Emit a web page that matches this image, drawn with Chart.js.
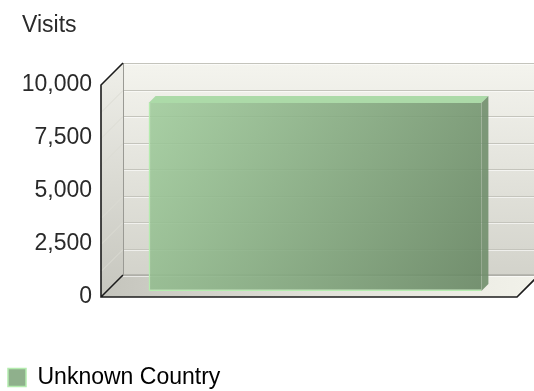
<!DOCTYPE html>
<html>
<head>
<meta charset="utf-8">
<script src="https://cdn.jsdelivr.net/npm/chart.js@4.4.0/dist/chart.umd.min.js"></script>
<style>
html, body { margin: 0; padding: 0; background: #fff; }
</style>
</head>
<body>
<canvas id="visits-chart" width="534" height="391"></canvas>
<script>
var countries = ["Unknown Country"];
var visits = [8870];
var yTicks = [0, 2500, 5000, 7500, 10000];
var gridValues = [0, 1250, 2500, 3750, 5000, 6250, 7500, 8750, 10000];

var FONT = "'Liberation Sans', Arial, sans-serif";
var TEXT = "#2a2a2a";
var DEPTH = 22;       // box depth, px
var BAR_OFFSET = 6;   // bar front face sits this far into the box
var BAR_DEPTH = 7;

function poly(ctx, pts) {
    ctx.beginPath();
    ctx.moveTo(pts[0][0], pts[0][1]);
    for (var i = 1; i < pts.length; i++)
        ctx.lineTo(pts[i][0], pts[i][1]);
    ctx.closePath();
}

var box3d = {
    id: "box3d",
    afterLayout: function(chart) {
        // legend sits a little lower and further in than the default layout
        chart.legend.top += 8;
        chart.legend.bottom += 8;
        chart.legend.left += 6;
    },
    beforeDraw: function(chart) {
        var ctx = chart.ctx;
        var a = chart.chartArea;
        var y = chart.scales.y;
        var L = a.left, R = a.right, T = a.top, B = a.bottom, D = DEPTH;

        ctx.save();
        // back wall
        var g = ctx.createLinearGradient(0, T - D, 0, B - D);
        g.addColorStop(0, "#f4f4ee");
        g.addColorStop(1, "#d3d3cb");
        ctx.fillStyle = g;
        ctx.fillRect(L + D, T - D, R - L, B - T);

        // left wall
        g = ctx.createLinearGradient(0, T - D, 0, B);
        g.addColorStop(0, "#efefe9");
        g.addColorStop(1, "#c6c6be");
        ctx.fillStyle = g;
        poly(ctx, [[L, T], [L + D, T - D], [L + D, B - D], [L, B]]);
        ctx.fill();

        // floor
        g = ctx.createLinearGradient(L, 0, R + D, 0);
        g.addColorStop(0, "#c4c4bc");
        g.addColorStop(0.5, "#e2e2da");
        g.addColorStop(1, "#f2f2ea");
        ctx.fillStyle = g;
        poly(ctx, [[L, B], [R, B], [R + D, B - D], [L + D, B - D]]);
        ctx.fill();

        // grid lines on back and left walls
        ctx.lineWidth = 1;
        gridValues.forEach(function(v) {
            var py = Math.round(y.getPixelForValue(v)) + 0.5;
            ctx.strokeStyle = "#c4c4bc";
            ctx.beginPath();
            ctx.moveTo(L + D, py - D);
            ctx.lineTo(R + D, py - D);
            ctx.stroke();
            ctx.strokeStyle = "rgba(255,255,255,0.6)";
            ctx.beginPath();
            ctx.moveTo(L + D, py - D + 1);
            ctx.lineTo(R + D, py - D + 1);
            ctx.stroke();
            ctx.strokeStyle = "#dcdcd4";
            ctx.beginPath();
            ctx.moveTo(L, py);
            ctx.lineTo(L + D, py - D);
            ctx.stroke();
        });

        // inner edges
        ctx.strokeStyle = "#9a9a94";
        ctx.beginPath();
        ctx.moveTo(L + D + 0.5, T - D);
        ctx.lineTo(L + D + 0.5, B - D);
        ctx.lineTo(R + D, B - D);
        ctx.stroke();

        // front axis lines
        ctx.strokeStyle = "#1c1c1c";
        ctx.lineWidth = 1.6;
        ctx.beginPath();
        ctx.moveTo(L + D, T - D);
        ctx.lineTo(L, T);
        ctx.lineTo(L, B);
        ctx.lineTo(R, B);
        ctx.lineTo(R + D, B - D);
        ctx.moveTo(L, B);
        ctx.lineTo(L + D, B - D);
        ctx.stroke();

        // "Visits" heading
        ctx.fillStyle = TEXT;
        ctx.font = "23px " + FONT;
        ctx.textBaseline = "alphabetic";
        ctx.fillText("Visits", 22, 32);
        ctx.restore();
    },
    beforeDatasetsDraw: function(chart) {
        chart.ctx.save();
        chart.ctx.translate(BAR_OFFSET, -BAR_OFFSET);
    },
    afterDatasetsDraw: function(chart) {
        var ctx = chart.ctx;
        var d = BAR_DEPTH;
        chart.getDatasetMeta(0).data.forEach(function(bar) {
            var p = bar.getProps(["x", "y", "base", "width"], true);
            var x0 = p.x - p.width / 2, x1 = p.x + p.width / 2;
            // top face
            ctx.fillStyle = "rgba(168,216,164,0.95)";
            poly(ctx, [[x0, p.y], [x1, p.y], [x1 + d, p.y - d], [x0 + d, p.y - d]]);
            ctx.fill();
            // right side face
            ctx.fillStyle = "rgba(112,142,108,0.9)";
            poly(ctx, [[x1, p.y], [x1 + d, p.y - d], [x1 + d, p.base - d], [x1, p.base]]);
            ctx.fill();
        });
        ctx.restore();
    }
};

new Chart(document.getElementById("visits-chart"), {
    type: "bar",
    data: {
        labels: countries,
        datasets: [{
            label: countries[0],
            data: visits,
            backgroundColor: function(c) {
                var area = c.chart.chartArea;
                if (!area) return "#8fb08c";
                var g = c.chart.ctx.createLinearGradient(area.left, area.top, area.right, area.bottom);
                g.addColorStop(0, "rgba(166,212,162,0.88)");
                g.addColorStop(1, "rgba(98,128,94,0.9)");
                return g;
            },
            borderColor: "#b4ecae",
            borderWidth: { left: 1.5, bottom: 1.5, top: 0, right: 0 },
            borderSkipped: false,
            barPercentage: 1,
            categoryPercentage: 0.8
        }]
    },
    options: {
        responsive: false,
        animation: false,
        layout: { padding: { top: 85, right: 17, left: 0, bottom: 0 } },
        scales: {
            x: {
                ticks: { display: false },
                grid: { display: false },
                border: { display: false },
                afterFit: function(scale) { scale.height = 59; }
            },
            y: {
                min: 0,
                max: 10000,
                afterBuildTicks: function(scale) {
                    scale.ticks = yTicks.map(function(v) { return { value: v }; });
                },
                ticks: {
                    padding: 9,
                    color: TEXT,
                    font: { family: FONT, size: 23 }
                },
                grid: { display: false, drawTicks: false },
                border: { display: false },
                afterFit: function(scale) { scale.width = 101; }
            }
        },
        plugins: {
            title: { display: false },
            tooltip: { enabled: false },
            legend: {
                position: "bottom",
                align: "start",
                labels: {
                    padding: 2,
                    boxWidth: 18,
                    boxHeight: 18,
                    color: TEXT,
                    font: { family: FONT, size: 23 },
                    generateLabels: function() {
                        return countries.map(function(c, i) {
                            return {
                                text: c,
                                fillStyle: "#8fb08c",
                                strokeStyle: "#b4ecae",
                                lineWidth: 1.5,
                                hidden: false,
                                datasetIndex: 0,
                                index: i
                            };
                        });
                    }
                }
            }
        }
    },
    plugins: [box3d]
});
</script>
</body>
</html>
